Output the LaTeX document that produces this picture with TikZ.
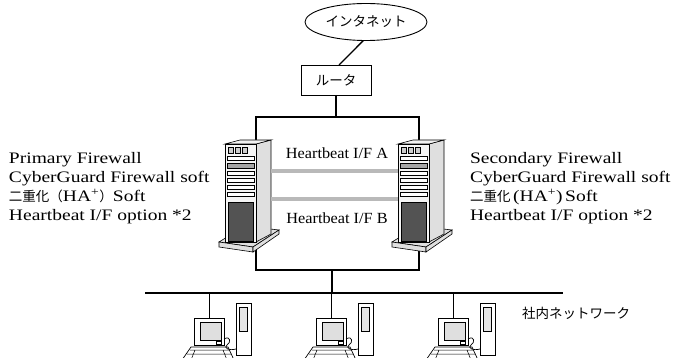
\documentclass[tikz,border=0pt]{standalone}
\usepackage{fontspec}
\setmainfont{Liberation Serif}[FakeStretch=1.22]
\newfontfamily\hbfont{Liberation Serif}[FakeStretch=1.05]
\newfontfamily\jpfont{Noto Sans CJK JP}
\newcommand\jtext[1]{{\jpfont\fontsize{13.5}{19}\selectfont #1}}
\usetikzlibrary{shapes.geometric}
\begin{document}
\begin{tikzpicture}[x=1pt,y=-1pt,inner sep=0pt,outer sep=0pt,
cloudnode/.style={draw,ellipse,minimum width=122pt,minimum height=37pt,line width=0.9pt},
netbox/.style={draw,rectangle,minimum width=70pt,minimum height=30pt,line width=0.9pt},
fwtext/.style={font=\fontsize{16}{19}\selectfont,align=left,anchor=west},
hbtext/.style={font=\hbfont\fontsize{15.5}{19}\selectfont},
ring/.style={line width=1.6pt},
lan/.style={line width=2pt},
hbcable/.style={line width=0.7pt,double=gray!55,double distance=3.2pt},
shade/.style={draw,fill=gray!25,line width=0.6pt},
server/.pic={
  \draw[shade] (-6,98) -- (20,82) -- (54,86) -- (28,103) -- cycle;
  \draw[shade] (-6,98) -- (28,103) -- (28,108) -- (-6,103) -- cycle;
  \draw[shade] (28,103) -- (54,86) -- (54,90) -- (28,108) -- cycle;
  \draw[shade] (31,0) -- (46,-4) -- (46,90) -- (31,98) -- cycle;
  \draw[fill=gray!10,line width=0.6pt] (0,0) -- (15,-4) -- (46,-4) -- (31,0) -- cycle;
  \draw[fill=gray!8,line width=0.6pt] (0,0) rectangle (31,98);
  \foreach \i in {0,1,2} \draw[fill=gray!40,line width=0.5pt] (3+\i*7,3) rectangle ++(5,6);
  \foreach \y in {12,27,34,41,48} \draw[fill=white,line width=0.5pt] (2,\y) rectangle (29,\y+4);
  \draw[fill=gray!70,line width=0.5pt] (2,19) rectangle (29,24);
  \draw[fill=gray!65!black,line width=0.5pt] (3,58) rectangle (28,97);
  \coordinate (-ea) at (46,27);
  \coordinate (-eb) at (46,55);
  \coordinate (-wa) at (0,27);
  \coordinate (-wb) at (0,55);
},
pc/.pic={
  \coordinate (-top) at (0,0);
  \draw[fill=white,line width=0.7pt] (-18,29) -- (19,29) -- (25,42) -- (-27,42) -- cycle;
  \draw[line width=0.5pt] (-19,32) -- (20,32) (-22,36) -- (22,36) (-14,32) -- (-18,42) (14,32) -- (18,42);
  \draw[fill=white,line width=0.8pt] (-15,0) rectangle (15,27);
  \draw[fill=gray!25,line width=0.5pt] (-9,4) rectangle (12,22);
  \draw[line width=0.5pt] (7,23) rectangle (12,26);
  \draw[fill=white,line width=0.8pt] (27,-15) rectangle (42,37);
  \draw[fill=gray!20,line width=0.5pt] (30,-11) rectangle (38,13);
  \draw[line width=0.7pt] (15,21) .. controls (22,17) and (22,25) .. (18,27) .. controls (14,30) and (20,33) .. (27,31);
}]
\useasboundingbox (0,0) rectangle (683,358);
\clip (0,0) rectangle (683,358);
\draw (366,22) node[cloudnode] (inet) {\jtext{インタネット}};
\draw (336,80) node[netbox] (router) {\jtext{ルータ}};
\draw[line width=1.3pt] (inet.262) -- ([xshift=3pt]router.north);
\coordinate (ringtl) at (256,117);
\coordinate (ringbr) at (419,270);
\coordinate (hub) at (332,293);
\draw[ring] (router.south) -- (router.south |- ringtl);
\draw[ring] (ringtl) rectangle (ringbr);
\draw[ring] (hub |- ringbr) -- (hub);
\pic (fw1) at (225,144) {server};
\pic (fw2) at (398,144) {server};
\draw[hbcable] (fw1-ea) -- (fw2-wa);
\draw[hbcable] (fw1-eb) -- (fw2-wb);
\draw (337,153) node[hbtext] (hbA) {Heartbeat I/F A};
\draw (337,218) node[hbtext] (hbB) {Heartbeat I/F B};
\draw (9,188) node[fwtext] (fw1txt) {Primary Firewall\\CyberGuard Firewall soft\\\jtext{二重化（}HA\textsuperscript{+}\jtext{）}Soft\\Heartbeat I/F option *2};
\draw (470,188) node[fwtext] (fw2txt) {Secondary Firewall\\CyberGuard Firewall soft\\\jtext{二重化}\,(HA\textsuperscript{+})\,Soft\\Heartbeat I/F option *2};
\coordinate (lanL) at (145,293);
\coordinate (lanR) at (563,293);
\draw[lan] (lanL) -- (lanR);
\foreach \x/\n in {209/pc1,331/pc2,453/pc3} {
  \pic (\n) at (\x,318) {pc};
  \draw[line width=1pt] (\n-top) -- (\n-top |- lanL);
}
\draw (522,313) node[anchor=west] (lantxt) {\jtext{社内ネットワーク}};
\end{tikzpicture}
\end{document}
